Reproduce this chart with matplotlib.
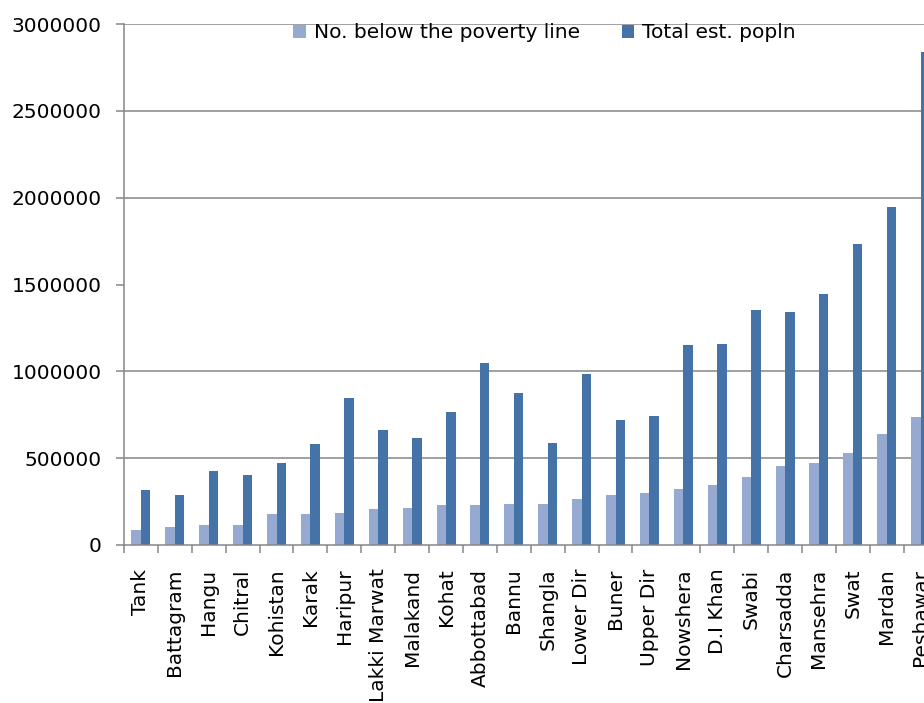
import numpy as np
import matplotlib
matplotlib.use("Agg")
import matplotlib.pyplot as plt

districts = ["Tank", "Battagram", "Hangu", "Chitral", "Kohistan", "Karak", "Haripur",
             "Lakki Marwat", "Malakand", "Kohat", "Abbottabad", "Bannu", "Shangla",
             "Lower Dir", "Buner", "Upper Dir", "Nowshera", "D.I Khan", "Swabi",
             "Charsadda", "Mansehra", "Swat", "Mardan", "Peshawar"]
below_poverty = [86000, 104000, 115000, 115000, 178000, 178000, 184000, 207000, 213000,
                 230000, 230000, 236000, 236000, 265000, 288000, 299000, 322000, 345000,
                 391000, 455000, 472000, 530000, 639000, 737000]
total_popln = [317000, 288000, 426000, 403000, 472000, 581000, 846000, 662000, 616000,
               766000, 1048000, 875000, 587000, 985000, 720000, 743000, 1152000, 1157000,
               1353000, 1342000, 1445000, 1733000, 1946000, 2839000]
grid_values = [500000, 1000000, 2000000, 2500000, 3000000]

light = "#95a9d1"
dark = "#4573a8"
axis_grey = "#868686"

plt.rcParams["font.family"] = ["DejaVu Sans"]
fig = plt.figure(figsize=(9.24, 7.03), dpi=100)
ax = fig.add_axes([124 / 924, 158 / 703, 24 * 33.9 / 924, 521 / 703])

x = np.arange(len(districts))
w = 0.28
ax.bar(x - w / 2, below_poverty, w, color=light, label="No. below the poverty line", zorder=3)
ax.bar(x + w / 2, total_popln, w, color=dark, label="Total est. popln", zorder=3)

for g in grid_values:
    ax.axhline(g, color=axis_grey, lw=1.1, zorder=1)

ax.set_xlim(-0.5, len(districts) - 0.5)
ax.set_ylim(0, 3000000)
ax.set_yticks(np.arange(0, 3000001, 500000))
ax.set_yticklabels([str(v) for v in range(0, 3000001, 500000)])

# category boundaries as tick marks, labels at centres
bounds = [b - 0.5 for b in range(len(districts)) if b != 16]
ax.set_xticks(bounds)
ax.set_xticklabels([""] * len(bounds))
ax.set_xticks(x, minor=True)
ax.set_xticklabels(districts, minor=True, rotation=90, va="top", ha="center", fontsize=14.5)
ax.tick_params(axis="x", which="minor", length=0, pad=17)
ax.tick_params(axis="x", which="major", length=6, width=1.1, color=axis_grey)
ax.tick_params(axis="y", length=6, width=1.1, color=axis_grey, labelsize=14.5, pad=10)

for s in ["top", "right"]:
    ax.spines[s].set_visible(False)
for s in ["left", "bottom"]:
    ax.spines[s].set_color(axis_grey)
    ax.spines[s].set_linewidth(1.1)
    ax.spines[s].set_zorder(4)

ax.legend(loc="center", bbox_to_anchor=(0.517, 0.983), ncol=2, frameon=False,
          fontsize=14.5, handlelength=0.6, handleheight=0.6, handletextpad=0.4,
          columnspacing=2.1, borderaxespad=0)

fig.savefig("out.png", dpi=100)
